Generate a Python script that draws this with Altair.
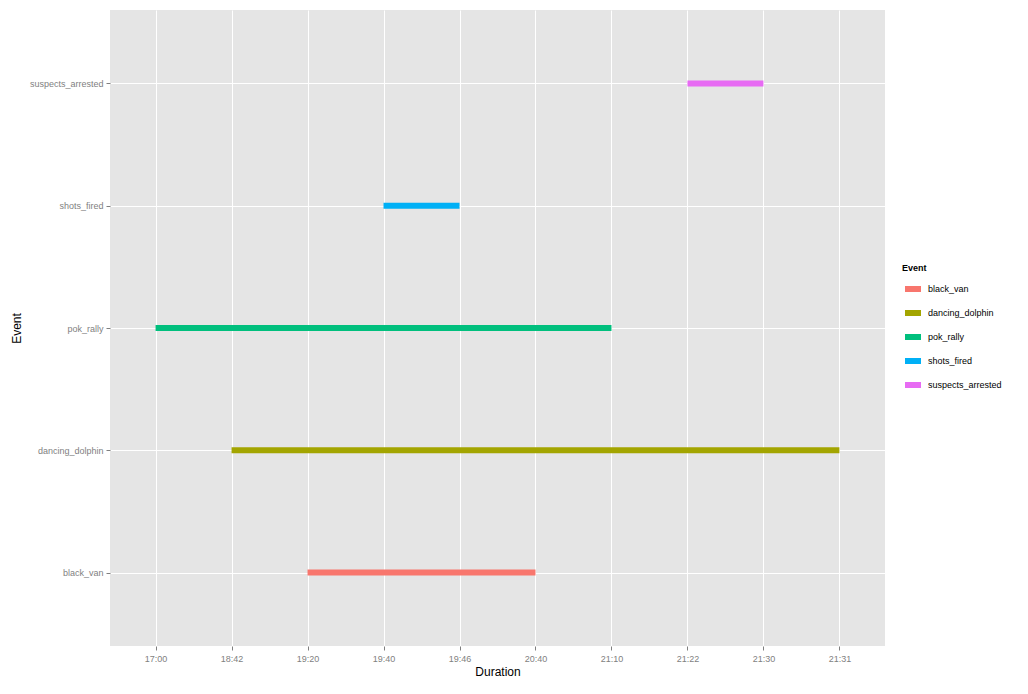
import altair as alt
import pandas as pd

events = ["black_van", "dancing_dolphin", "pok_rally", "shots_fired", "suspects_arrested"]
starts = ["19:20", "18:42", "17:00", "19:40", "21:22"]
ends = ["20:40", "21:31", "21:10", "19:46", "21:30"]
x_labels = ["17:00", "18:42", "19:20", "19:40", "19:46", "20:40", "21:10", "21:22", "21:30", "21:31"]
colors = ["#F8766D", "#A3A500", "#00BF7D", "#00B0F6", "#E76BF3"]

df = pd.DataFrame({"Event": events, "start": starts, "end": ends})

FONT = "Liberation Sans"

chart = alt.Chart(df).mark_rule(strokeWidth=6).encode(
    x=alt.X(
        "start:O",
        scale=alt.Scale(type="point", domain=x_labels, padding=0.6),
        axis=alt.Axis(
            title="Duration", labelAngle=0, grid=True, gridColor="white", gridWidth=1,
            tickColor="#7F7F7F", tickSize=4, labelColor="#7F7F7F", labelFontSize=9,
            labelPadding=4, titleFontSize=12, titleFontWeight="normal", titleColor="black",
            titlePadding=3, domain=False, labelFont=FONT, titleFont=FONT,
        ),
    ),
    x2="end:O",
    y=alt.Y(
        "Event:O",
        scale=alt.Scale(type="point", domain=list(reversed(events)), padding=0.6),
        axis=alt.Axis(
            title="Event", grid=True, gridColor="white", gridWidth=1,
            tickColor="#7F7F7F", tickSize=4, labelColor="#7F7F7F", labelFontSize=9,
            labelPadding=3, titleFontSize=12, titleFontWeight="normal", titleColor="black",
            titlePadding=6, domain=False, labelFont=FONT, titleFont=FONT,
        ),
    ),
    color=alt.Color(
        "Event:N",
        scale=alt.Scale(domain=events, range=colors),
        legend=alt.Legend(
            orient="none", legendX=792, legendY=254, symbolType="stroke",
            symbolStrokeWidth=6, symbolSize=256, rowPadding=0,
            titleFontSize=9, titleFontWeight="bold", labelFontSize=9,
            titleFont=FONT, labelFont=FONT, titleColor="black", labelColor="black",
            titlePadding=5, labelOffset=4,
        ),
    ),
).properties(
    width=775,
    height=636,
    background="white",
    autosize=alt.AutoSizeParams(type="none"),
    padding={"left": 102, "top": 2, "right": 135, "bottom": 40},
).configure_view(fill="#E5E5E5", strokeWidth=0)

chart.save("out.html", embed_options={"renderer": "svg", "actions": False})
